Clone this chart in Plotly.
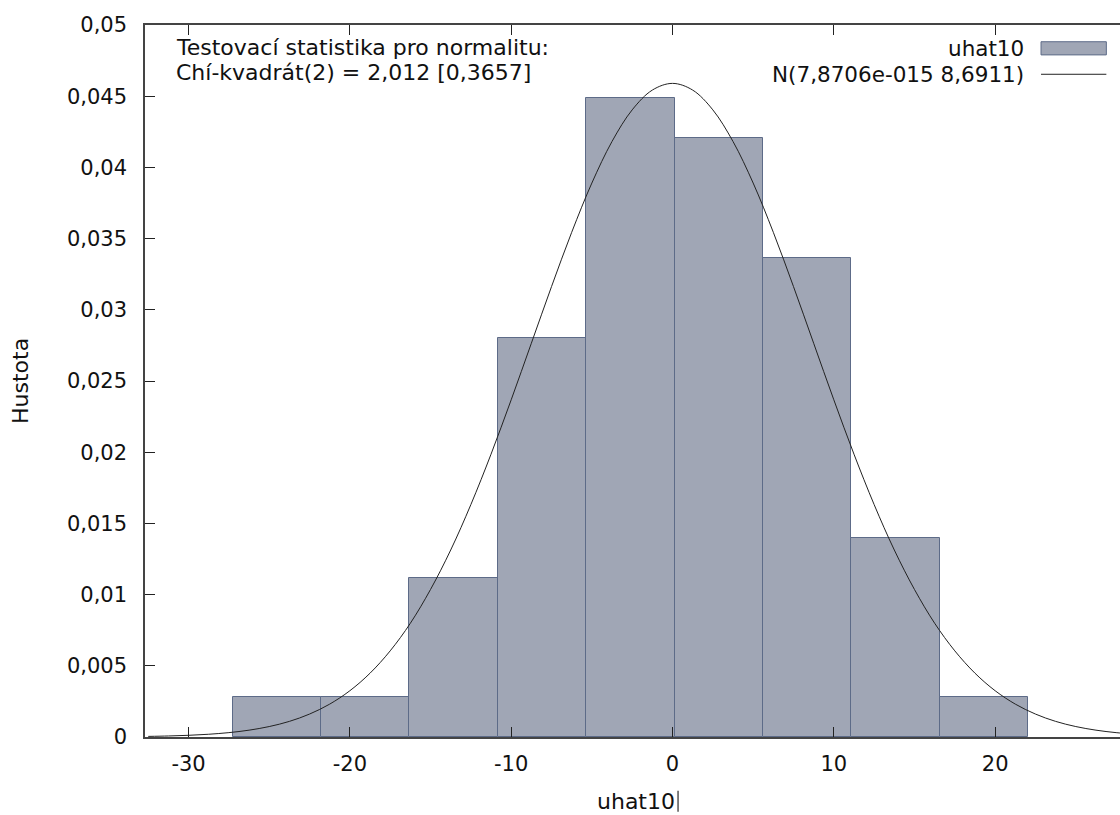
import plotly.graph_objects as go

# ---- data ----
bin_centers = [-24.53, -19.05, -13.57, -8.09, -2.61, 2.87, 8.35, 13.83, 19.31]
bin_width = 5.48
densities = [0.00278, 0.00278, 0.01120, 0.02805, 0.04490, 0.04208, 0.03366, 0.01400, 0.00278]

curve_x = [-32.5, -31.25, -30, -28.75, -27.5, -26.25, -25, -23.75, -22.5, -21.25, -20,
           -18.75, -17.5, -16.25, -15, -13.75, -12.5, -11.25, -10, -8.75, -7.5, -6.25,
           -5, -3.75, -2.5, -1.25, 0, 1.25, 2.5, 3.75, 5, 6.25, 7.5, 8.75, 10, 11.25,
           12.5, 13.75, 15, 16.25, 17.5, 18.75, 20, 21.25, 22.5, 23.75, 25, 26.25, 27.5, 28.75]
curve_y = [0.0000422, 0.0000716, 0.000119, 0.000193, 0.000307, 0.000480, 0.000733,
           0.001097, 0.00161, 0.00231, 0.00325, 0.00448, 0.00605, 0.00799, 0.01036,
           0.01313, 0.01632, 0.01986, 0.02368, 0.02765, 0.03163, 0.03544, 0.03890,
           0.04182, 0.04404, 0.04543, 0.04590, 0.04543, 0.04404, 0.04182, 0.03890,
           0.03544, 0.03163, 0.02765, 0.02368, 0.01986, 0.01632, 0.01313, 0.01036,
           0.00799, 0.00605, 0.00448, 0.00325, 0.00231, 0.00161, 0.001097, 0.000733,
           0.000480, 0.000307, 0.000193]

y_ticks = [0, 0.005, 0.01, 0.015, 0.02, 0.025, 0.03, 0.035, 0.04, 0.045, 0.05]
y_ticktext = ["0", "0,005", "0,01", "0,015", "0,02", "0,025", "0,03", "0,035", "0,04", "0,045", "0,05"]
x_ticks = [-30, -20, -10, 0, 10, 20]
x_ticktext = ["-30", "-20", "-10", "0", "10", "20"]

series_name = "uhat10"
curve_name = "N(7,8706e-015 8,6911)"
stat_lines = ["Testovací statistika pro normalitu:", "Chí-kvadrát(2) = 2,012 [0,3657]"]

FONT = "DejaVu Sans"
FS_TICK = 21
FS_TEXT = 22
FILL = "#a0a6b5"
EDGE = "#5d6b88"
TXT = "#111111"

fig = go.Figure()
fig.add_trace(go.Bar(
    x=bin_centers, y=densities, width=bin_width,
    marker=dict(color=FILL, line=dict(color=EDGE, width=1)),
    name=series_name, showlegend=False,
))
fig.add_trace(go.Scatter(
    x=curve_x, y=curve_y, mode="lines",
    line=dict(color="#222222", width=1, shape="spline", smoothing=1.0),
    name=curve_name, showlegend=False,
))

axis_common = dict(
    showgrid=False, zeroline=False, showline=True, linecolor="#444444", linewidth=1.5,
    ticks="inside", ticklen=10, tickcolor="#222222", tickwidth=1,
    tickfont=dict(family=FONT, size=FS_TICK, color=TXT),
)
fig.update_xaxes(range=[-32.7, 27.74], tickvals=x_ticks, ticktext=x_ticktext,
                 mirror="ticks", ticklabelstandoff=7, **axis_common)
fig.update_yaxes(range=[0, 0.05], tickvals=y_ticks, ticktext=y_ticktext,
                 mirror=False, ticklabelstandoff=12, **axis_common)

def txt(text, x, y, xanchor, size=FS_TEXT, **kw):
    return dict(text=text, x=x, y=y, xref="paper", yref="paper", xanchor=xanchor,
                yanchor="middle", showarrow=False,
                font=dict(family=FONT, size=size, color=TXT), **kw)

annotations = [
    txt(stat_lines[0], 0.0297, 0.969, "left"),
    txt(stat_lines[1], 0.0297, 0.9326, "left"),
    txt(series_name, 0.9036, 0.9670, "right", size=21.5),
    txt(curve_name, 0.9036, 0.9308, "right", size=21.5),
    txt("uhat10", 0.5035, -0.0905, "center"),
    txt("Hustota", -0.1282, 0.5, "center", textangle=-90),
]

shapes = [
    dict(type="rect", xref="paper", yref="paper", x0=0.919, x1=0.986, y0=0.958, y1=0.9765,
         fillcolor=FILL, line=dict(color=EDGE, width=1)),
    dict(type="line", xref="paper", yref="paper", x0=0.919, x1=0.986, y0=0.9308, y1=0.9308,
         line=dict(color="#222222", width=1)),
    dict(type="line", xref="paper", yref="paper", x0=0.5467, x1=0.5467, y0=-0.0755, y1=-0.1050,
         line=dict(color="#000000", width=1)),
]

fig.update_layout(
    width=1120, height=815,
    margin=dict(l=145, r=0, t=25, b=78),
    plot_bgcolor="white", paper_bgcolor="white",
    bargap=0, showlegend=False,
    annotations=annotations, shapes=shapes,
)

fig.write_html("out.html")
